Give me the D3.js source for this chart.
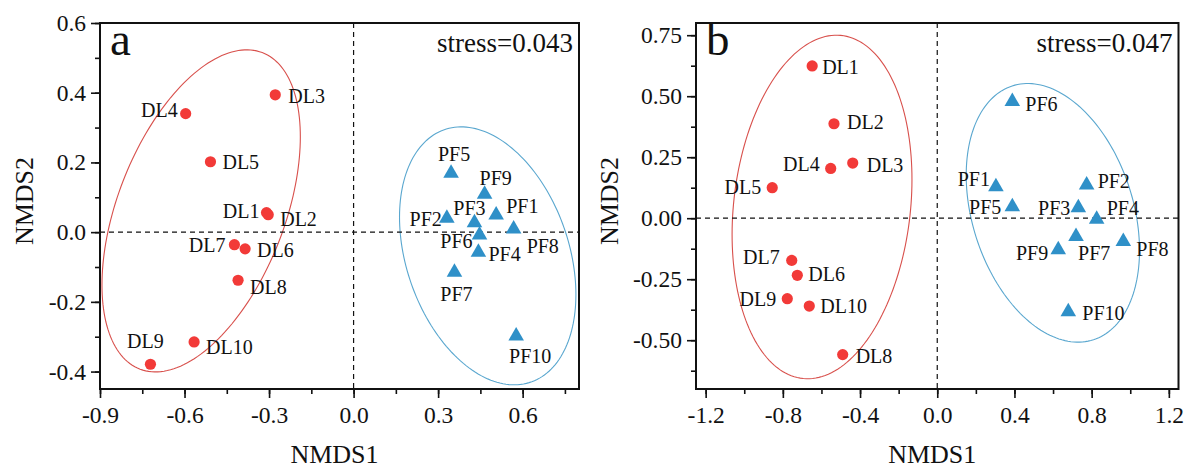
<!DOCTYPE html>
<html><head><meta charset="utf-8">
<script src="https://cdn.jsdelivr.net/npm/d3@7"></script>
<style>
body{margin:0;background:#fff}
svg{display:block}
text{font-family:"Liberation Serif","Times New Roman",serif;fill:#111}
</style>
</head><body>
<svg id="chart" width="1190" height="468"></svg>
<script>
// ---------- Panel a data ----------
const aDLNames = ["DL1","DL2","DL3","DL4","DL5","DL6","DL7","DL8","DL9","DL10"];
const aDLx = [-0.309,-0.303,-0.278,-0.596,-0.508,-0.385,-0.423,-0.410,-0.721,-0.566];
const aDLy = [0.056,0.050,0.394,0.340,0.202,-0.048,-0.036,-0.138,-0.379,-0.315];
const aPFNames = ["PF1","PF2","PF3","PF4","PF5","PF6","PF7","PF8","PF9","PF10"];
const aPFx = [0.506,0.331,0.429,0.443,0.346,0.447,0.358,0.568,0.465,0.577];
const aPFy = [0.049,0.040,0.027,-0.058,0.169,-0.008,-0.115,0.009,0.109,-0.298];
const aEllipseDL = [-0.541, 0.061, 0.352, 0.462, 0.46];   // cx, cy, rx, ry, corr
const aEllipsePF = [0.476, -0.068, 0.313, 0.370, -0.30];
const aXDomain = [-0.9, 0.8];
const aYDomain = [-0.45, 0.6];
const aXTicks = [-0.9,-0.6,-0.3,0.0,0.3,0.6];
const aXTickLabels = ["-0.9","-0.6","-0.3","0.0","0.3","0.6"];
const aYTicks = [-0.4,-0.2,0.0,0.2,0.4,0.6];
const aYTickLabels = ["-0.4","-0.2","0.0","0.2","0.4","0.6"];
const aStress = "stress=0.043";

// ---------- Panel b data ----------
const bDLNames = ["DL1","DL2","DL3","DL4","DL5","DL6","DL7","DL8","DL9","DL10"];
const bDLx = [-0.648,-0.535,-0.438,-0.552,-0.855,-0.725,-0.754,-0.490,-0.777,-0.663];
const bDLy = [0.624,0.387,0.226,0.204,0.125,-0.234,-0.173,-0.559,-0.330,-0.360];
const bPFNames = ["PF1","PF2","PF3","PF4","PF5","PF6","PF7","PF8","PF9","PF10"];
const bPFx = [0.304,0.774,0.731,0.826,0.389,0.389,0.719,0.964,0.627,0.679];
const bPFy = [0.129,0.136,0.043,-0.004,0.047,0.478,-0.075,-0.095,-0.129,-0.383];
const bEllipseDL = [-0.597, 0.046, 0.466, 0.704, 0.16];
const bEllipsePF = [0.599, 0.022, 0.449, 0.530, -0.29];
const bXDomain = [-1.25, 1.25];
const bYDomain = [-0.7, 0.8];
const bXTicks = [-1.2,-0.8,-0.4,0.0,0.4,0.8,1.2];
const bXTickLabels = ["-1.2","-0.8","-0.4","0.0","0.4","0.8","1.2"];
const bYTicks = [-0.5,-0.25,0.0,0.25,0.5,0.75];
const bYTickLabels = ["-0.50","-0.25","0.00","0.25","0.50","0.75"];
const bStress = "stress=0.047";

// ---------- label placement (layout only): [dx, dy(baseline), anchor] ----------
const aLabelPos = {
  DL1:[-7,5,"end"], DL2:[12,11,"start"], DL3:[13,8,"start"], DL4:[-8,3,"end"],
  DL5:[12,7,"start"], DL6:[12,8,"start"], DL7:[-9,7,"end"], DL8:[12,14,"start"],
  DL9:[-5,-16,"middle"], DL10:[12,12,"start"],
  PF1:[10,-2,"start"], PF2:[-5,8,"end"], PF3:[-5,-8,"middle"], PF4:[10,9,"start"],
  PF5:[3,-12,"middle"], PF6:[-7,13,"end"], PF7:[2,29,"middle"], PF8:[13,24,"start"],
  PF9:[-5,-9,"start"], PF10:[14,27,"middle"]
};
const bLabelPos = {
  DL1:[10,8,"start"], DL2:[13,5,"start"], DL3:[14,9,"start"], DL4:[-11,3,"end"],
  DL5:[-11,6,"end"], DL6:[11,6,"start"], DL7:[-12,4,"end"], DL8:[13,8,"start"],
  DL9:[-11,7,"end"], DL10:[11,7,"start"],
  PF1:[-6,-1,"end"], PF2:[11,3,"start"], PF3:[-8,7,"end"], PF4:[10,-4,"start"],
  PF5:[-11,7,"end"], PF6:[13,9,"start"], PF7:[2,23,"start"], PF8:[13,15,"start"],
  PF9:[-10,10,"end"], PF10:[14,8,"start"]
};

const RED = "#f23a38", BLUE = "#2f90c8";
const RED_LINE = "#d8504c", BLUE_LINE = "#5aa7cf";

const svg = d3.select("#chart");

function drawPanel(o) {
  const g = svg.append("g");
  const x = d3.scaleLinear().domain(o.xDomain).range([o.left, o.right]);
  const y = d3.scaleLinear().domain(o.yDomain).range([o.bottom, o.top]);

  // ellipses
  const ts = d3.range(0, 2*Math.PI, Math.PI/90);
  const line = d3.line().x(d => x(d[0])).y(d => y(d[1])).curve(d3.curveLinearClosed);
  function ell(p) {
    const [cx, cy, rx, ry, r] = p;
    const s = Math.sqrt(1 - r*r);
    return ts.map(t => [cx + rx*Math.cos(t), cy + ry*(r*Math.cos(t) + s*Math.sin(t))]);
  }
  g.append("path").attr("d", line(ell(o.ellDL))).attr("fill","none")
    .attr("stroke", RED_LINE).attr("stroke-width", 1.1);
  g.append("path").attr("d", line(ell(o.ellPF))).attr("fill","none")
    .attr("stroke", BLUE_LINE).attr("stroke-width", 1.1);

  // dashed zero lines
  g.append("line").attr("x1", x(0)).attr("x2", x(0)).attr("y1", o.top).attr("y2", o.bottom)
    .attr("stroke","#111").attr("stroke-width",1.2).attr("stroke-dasharray","5,4");
  g.append("line").attr("x1", o.left).attr("x2", o.right).attr("y1", y(0)).attr("y2", y(0))
    .attr("stroke","#111").attr("stroke-width",1.2).attr("stroke-dasharray","5,4");

  // DL points
  const dl = o.dlNames.map((n,i) => ({n, x:o.dlx[i], y:o.dly[i]}));
  const pf = o.pfNames.map((n,i) => ({n, x:o.pfx[i], y:o.pfy[i]}));
  g.selectAll(".dl").data(dl).enter().append("circle")
    .attr("cx", d => x(d.x)).attr("cy", d => y(d.y)).attr("r", 5.6).attr("fill", RED);
  const tri = d3.symbol().type(d3.symbolTriangle).size(105);
  g.selectAll(".pf").data(pf).enter().append("path")
    .attr("d", tri).attr("transform", d => `translate(${x(d.x)},${y(d.y)})`).attr("fill", BLUE);

  // labels
  g.selectAll(".lab").data(dl.concat(pf)).enter().append("text")
    .attr("x", d => x(d.x) + o.labelPos[d.n][0])
    .attr("y", d => y(d.y) + o.labelPos[d.n][1])
    .attr("text-anchor", d => o.labelPos[d.n][2])
    .attr("font-size", 20).text(d => d.n);

  // axes
  const xMajor = d3.axisBottom(x).tickValues(o.xTicks).tickSize(9).tickPadding(8)
    .tickFormat((d,i) => o.xTickLabels[i]);
  const yMajor = d3.axisLeft(y).tickValues(o.yTicks).tickSize(9).tickPadding(5)
    .tickFormat((d,i) => o.yTickLabels[i]);
  const xMinor = d3.axisBottom(x).tickValues(o.xMinor).tickSize(5).tickFormat("");
  const yMinor = d3.axisLeft(y).tickValues(o.yMinor).tickSize(5).tickFormat("");
  [[xMinor,"x"],[yMinor,"y"],[xMajor,"x"],[yMajor,"y"]].forEach(([ax, k]) => {
    const a = g.append("g")
      .attr("transform", k === "x" ? `translate(0,${o.bottom})` : `translate(${o.left},0)`)
      .call(ax.tickSizeOuter(0));
    a.select(".domain").remove();
    a.selectAll("line").attr("stroke","#111").attr("stroke-width",1.6);
    a.selectAll("text").attr("font-size", 23.5)
      .attr("font-family",'"Liberation Serif","Times New Roman",serif').attr("fill","#111");
  });

  // frame
  g.append("rect").attr("x", o.left).attr("y", o.top)
    .attr("width", o.right - o.left).attr("height", o.bottom - o.top)
    .attr("fill","none").attr("stroke","#111").attr("stroke-width",2);

  // texts
  g.append("text").attr("x", o.left + 10).attr("y", o.top + 32).attr("font-size", 47).text(o.letter);
  g.append("text").attr("x", o.right - 6).attr("y", o.top + 29).attr("text-anchor","end")
    .attr("font-size", 27).text(o.stress);
  g.append("text").attr("x", (o.left + o.right)/2 - 5).attr("y", 463).attr("text-anchor","middle")
    .attr("font-size", 26).text("NMDS1");
  g.append("text").attr("transform", `translate(${o.ytitleX},${(o.top+o.bottom)/2 - 5}) rotate(-90)`)
    .attr("text-anchor","middle").attr("font-size", 26).text("NMDS2");
}

drawPanel({
  left:100, right:579, top:23, bottom:389,
  xDomain:aXDomain, yDomain:aYDomain,
  xTicks:aXTicks, xTickLabels:aXTickLabels, yTicks:aYTicks, yTickLabels:aYTickLabels,
  xMinor:d3.range(-0.9, 0.76, 0.15), yMinor:d3.range(-0.4, 0.61, 0.1),
  dlNames:aDLNames, dlx:aDLx, dly:aDLy, pfNames:aPFNames, pfx:aPFx, pfy:aPFy,
  ellDL:aEllipseDL, ellPF:aEllipsePF, labelPos:aLabelPos,
  letter:"a", stress:aStress, ytitleX:33
});
drawPanel({
  left:696, right:1178.5, top:23, bottom:389,
  xDomain:bXDomain, yDomain:bYDomain,
  xTicks:bXTicks, xTickLabels:bXTickLabels, yTicks:bYTicks, yTickLabels:bYTickLabels,
  xMinor:d3.range(-1.2, 1.21, 0.2), yMinor:d3.range(-0.625, 0.76, 0.125),
  dlNames:bDLNames, dlx:bDLx, dly:bDLy, pfNames:bPFNames, pfx:bPFx, pfy:bPFy,
  ellDL:bEllipseDL, ellPF:bEllipsePF, labelPos:bLabelPos,
  letter:"b", stress:bStress, ytitleX:618
});
</script>
</body></html>
